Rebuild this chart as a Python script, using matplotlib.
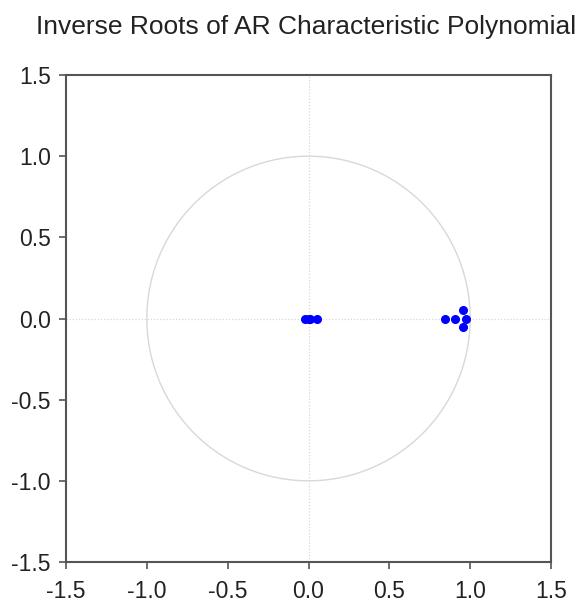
import numpy as np
import matplotlib.pyplot as plt

plt.rcParams['font.family'] = ['Liberation Sans', 'DejaVu Sans']

# inverse roots of the AR polynomial (real, imag)
root_re = [-0.02, 0.0, 0.01, 0.05, 0.845, 0.905, 0.955, 0.955, 0.975]
root_im = [0.0, 0.0, 0.0, 0.0, 0.0, 0.0, 0.055, -0.055, 0.0]
ticks = [-1.5, -1.0, -0.5, 0.0, 0.5, 1.0, 1.5]

fig = plt.figure(figsize=(5.79, 6.04), dpi=100)
ax = fig.add_axes([66 / 579, 1 - 562 / 604, 485 / 579, 487 / 604])

theta = np.linspace(0, 2 * np.pi, 400)
ax.plot(np.cos(theta), np.sin(theta), color='#d8d8d8', lw=1.0, zorder=1)
ax.axhline(0, color='#d8d8d8', lw=0.9, ls=(0, (1, 1.5)), zorder=0)
ax.axvline(0, color='#d8d8d8', lw=0.9, ls=(0, (1, 1.5)), zorder=0)

ax.plot(root_re, root_im, 'o', color='#0000ff', ms=5.5, mec='#0000ff', zorder=3)

ax.set_xlim(-1.5, 1.5)
ax.set_ylim(-1.5, 1.5)
ax.set_xticks(ticks)
ax.set_yticks(ticks)
ax.set_xticklabels([f"{t:.1f}" for t in ticks])
ax.set_yticklabels([f"{t:.1f}" for t in ticks])
ax.tick_params(direction='out', length=5, width=1.2, color='#555555',
               labelsize=16.5, labelcolor='#222222')
ax.tick_params(axis='x', pad=8)
ax.tick_params(axis='y', pad=6)
for s in ax.spines.values():
    s.set_color('#555555')
    s.set_linewidth(1.5)

fig.text(36 / 579, 1 - 27 / 604, "Inverse Roots of AR Characteristic Polynomial",
         fontsize=19, color='#222222', ha='left', va='center')

fig.savefig("out.png", dpi=100)
